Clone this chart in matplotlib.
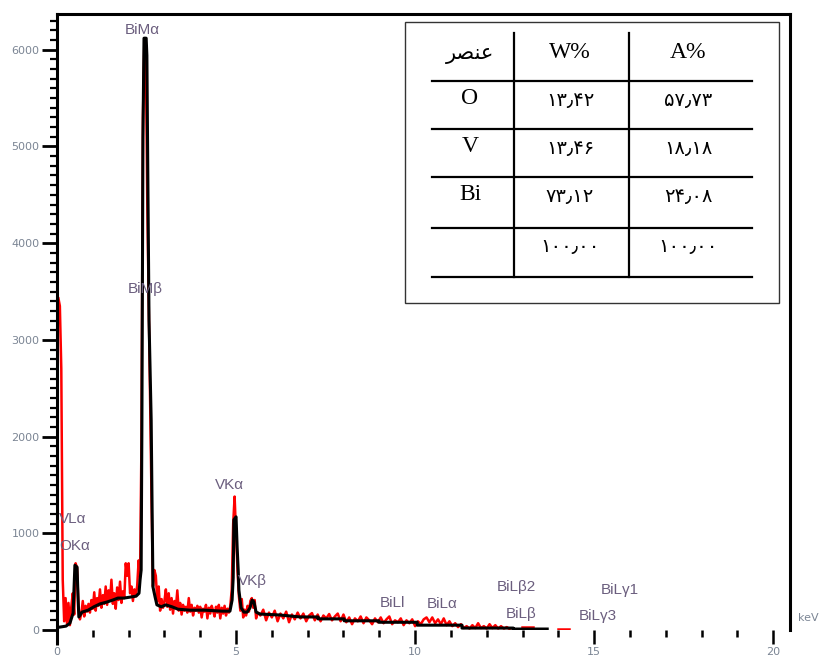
"""EDS spectrum of BiVO4 sample with element table."""

import matplotlib
matplotlib.use("Agg")
import matplotlib.pyplot as plt
import numpy as np
from matplotlib.patches import Rectangle
from matplotlib.ticker import MultipleLocator

# fitted spectrum (black), keV / counts
fit_kev = [0.08, 0.25, 0.36, 0.45, 0.50, 0.56, 0.59, 0.61, 0.70, 0.87, 1.03, 1.20,
           1.40, 1.56, 1.70, 1.87, 2.04, 2.21, 2.29, 2.32, 2.35, 2.37, 2.40, 2.43,
           2.49, 2.51, 2.54, 2.57, 2.63, 2.65, 2.68, 2.74, 2.79, 2.91, 3.04, 3.21,
           3.38, 3.72, 4.13, 4.61, 4.83, 4.89, 4.92, 4.94, 5.00, 5.03, 5.06, 5.08,
           5.14, 5.22, 5.31, 5.39, 5.45, 5.50, 5.56, 5.67, 6.23, 6.79, 7.29, 7.29,
           8.02, 8.02, 8.99, 8.99, 10.06, 10.06, 11.31, 11.31, 12.74, 12.74, 13.69]
fit_cps = [30, 40, 70, 175, 670, 650, 310, 135, 185, 205, 240, 270,
           290, 310, 330, 330, 340, 350, 380, 520, 620, 2070, 5090, 6120,
           6120, 5940, 4520, 3200, 2170, 1450, 445, 340, 260, 240, 260, 240,
           215, 205, 205, 195, 195, 310, 540, 1140, 1170, 860, 620, 410,
           230, 185, 185, 230, 310, 290, 185, 165, 155, 135, 135, 115,
           115, 95, 95, 80, 80, 50, 50, 20, 20, 10, 10]

# raw counts (red), channel start / width in keV
raw_lo_start, raw_lo_step = 0.04, 0.04
raw_lo_cps = [3430, 3350, 2700, 520, 90, 330, 60, 280, 50, 240,
              380, 160, 690, 640, 240, 110, 170, 300, 140, 250,
              190, 270, 180, 310, 220, 390, 200, 330, 250, 420,
              230, 360, 270, 450, 260, 410, 300, 520, 270, 380,
              220, 440, 310, 500, 280, 400, 330, 690, 560, 690,
              380, 450, 300, 420, 350, 460, 720, 560, 2000, 5300,
              6100, 6000, 4450, 3400, 2400, 1350, 450, 620, 560, 300,
              450, 200, 320, 230, 300, 420, 240, 380, 210, 330,
              170, 300, 230, 410, 200, 280, 160, 260, 200, 240,
              180, 330, 190, 260, 150, 230, 200, 250, 180, 240,
              130, 220, 190, 260, 120, 230, 170, 250, 200, 140,
              240, 180, 260, 120, 230, 170, 250, 150, 220, 180,
              250, 420, 1100, 1380, 1000, 620, 350, 200, 320, 130,
              210, 150, 250, 190, 300, 330, 230, 310, 120, 180]
raw_hi_start, raw_hi_step = 5.68, 0.08
raw_hi_cps = [150, 210, 100, 180, 130, 200, 90, 170, 120, 190,
              80, 160, 110, 180, 120, 170, 90, 150, 175, 100,
              160, 90, 150, 120, 165, 100, 140, 170, 90, 160,
              80, 130, 60, 120, 90, 140, 70, 130, 100, 60,
              120, 80, 130, 70, 110, 140, 60, 100, 80, 120,
              50, 100, 70, 110, 40, 90, 60, 110, 130, 80,
              130, 70, 110, 60, 120, 50, 90, 40, 70, 30,
              60, 20, 40, 15, 50, 20, 70, 20, 40, 15,
              60, 20, 50, 15, 40, 15, 30, 10]
raw_bits_kev = [[12.98, 13.30], [14.0, 14.3]]
raw_bits_cps = [[35, 35], [15, 15]]

# peak labels: text, keV, counts
peak_labels = ["BiM\u03b1", "BiM\u03b2", "VK\u03b1", "VK\u03b2", "VL\u03b1", "OK\u03b1",
               "BiLl", "BiL\u03b1", "BiL\u03b22", "BiL\u03b2", "BiL\u03b31", "BiL\u03b33"]
label_kev = [1.89, 1.98, 4.40, 5.04, 0.06, 0.06, 9.0, 10.33, 12.28, 12.53, 15.18, 14.57]
label_cps = [6200, 3530, 1500, 505, 1150, 870, 280, 270, 445, 165, 415, 145]

# composition table
elements = ["O", "V", "Bi", ""]
w_pct = [13.42, 13.46, 73.12, 100.00]
a_pct = [57.73, 18.18, 24.08, 100.00]

W, H = 821, 662
fig = plt.figure(figsize=(W / 100, H / 100), dpi=100)
ax = fig.add_axes([57 / W, 1 - 630 / H, (790 - 57) / W, (630 - 14) / H])
ax.set_xlim(0, 20.47)
ax.set_ylim(0, 6370)

lo_kev = raw_lo_start + raw_lo_step * np.arange(len(raw_lo_cps))
hi_kev = raw_hi_start + raw_hi_step * np.arange(len(raw_hi_cps))
ax.plot(np.r_[lo_kev, hi_kev], np.r_[raw_lo_cps, raw_hi_cps], color="#ff0000", lw=1.8, zorder=2)
for xs, ys in zip(raw_bits_kev, raw_bits_cps):
    ax.plot(xs, ys, color="#ff0000", lw=1.8, zorder=2)
ax.plot(fit_kev, fit_cps, color="black", lw=2.2, zorder=3)

for s in ["left", "top", "right"]:
    ax.spines[s].set_linewidth(2.2)
ax.spines["bottom"].set_visible(False)
ax.plot([0, 0], [0, -155], color="black", lw=2.2, clip_on=False, solid_capstyle="butt")

tick_col = "#7b8594"
ax.xaxis.set_major_locator(MultipleLocator(5))
ax.xaxis.set_minor_locator(MultipleLocator(1))
ax.yaxis.set_major_locator(MultipleLocator(1000))
ax.yaxis.set_minor_locator(MultipleLocator(100))
ax.tick_params(axis="x", which="major", length=10, width=1.8, pad=2, labelsize=8, labelcolor=tick_col)
ax.tick_params(axis="x", which="minor", length=5, width=1.8)
ax.tick_params(axis="y", which="major", length=11, width=2, pad=1.5, labelsize=8, labelcolor=tick_col)
ax.tick_params(axis="y", which="minor", length=5, width=1.6)

for txt, x, y in zip(peak_labels, label_kev, label_cps):
    ax.text(x, y, txt, ha="left", va="center", fontsize=11, color="#6b5e7e",
            family="Liberation Sans", zorder=4)

# overlay in pixel coordinates for table and unit
ov = fig.add_axes([0, 0, 1, 1], zorder=5)
ov.set_xlim(0, W)
ov.set_ylim(H, 0)
ov.axis("off")
ov.patch.set_alpha(0)
ov.text(808, 618, "keV", ha="center", va="center", fontsize=8, color=tick_col)

ov.add_patch(Rectangle((405, 22), 374, 281, facecolor="white", edgecolor="#333333", lw=1))
for yy in [81, 129, 177, 228, 277]:
    ov.plot([432, 752], [yy, yy], color="black", lw=1.6)
for xx in [514, 629]:
    ov.plot([xx, xx], [33, 277], color="black", lw=1.6)

fa = ["Liberation Serif", "DejaVu Sans"]
persian = str.maketrans("0123456789.", "\u06f0\u06f1\u06f2\u06f3\u06f4\u06f5\u06f6\u06f7\u06f8\u06f9\u066b")
col_x = [470, 570, 688]
ov.text(col_x[0], 54, "\ufeae\ufebc\ufee8\ufecb", ha="center", va="center", fontsize=15, family=fa)
ov.text(col_x[1], 52, "W%", ha="center", va="center", fontsize=17, family=fa)
ov.text(col_x[2], 52, "A%", ha="center", va="center", fontsize=17, family=fa)
row_y = [101, 149, 197, 248]
for el, w, a, y in zip(elements, w_pct, a_pct, row_y):
    ov.text(col_x[0], y - 2, el, ha="center", va="center", fontsize=17, family=fa)
    ov.text(col_x[1], y, f"{w:.2f}".translate(persian), ha="center", va="center", fontsize=14, family=fa)
    ov.text(col_x[2], y, f"{a:.2f}".translate(persian), ha="center", va="center", fontsize=14, family=fa)

fig.savefig("out.png", dpi=100)
